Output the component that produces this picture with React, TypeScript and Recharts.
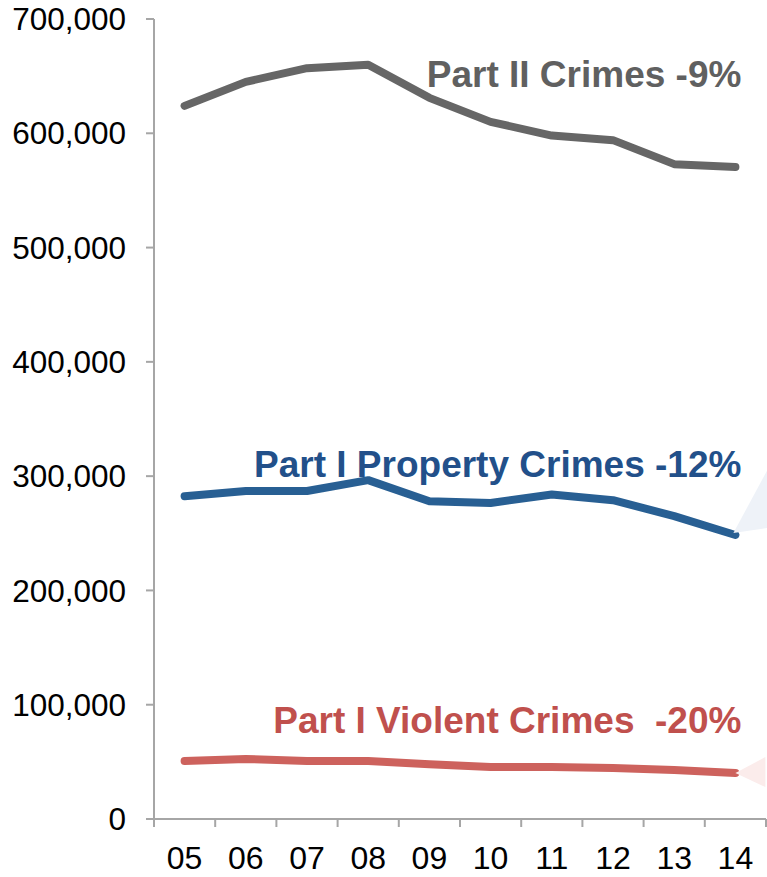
import { LineChart, Line, XAxis, YAxis } from 'recharts';

const years = ['05', '06', '07', '08', '09', '10', '11', '12', '13', '14'];
const partII = [624000, 645000, 657000, 660000, 631000, 610000, 598000, 594000, 573000, 570500];
const property = [282500, 287000, 287000, 296500, 278000, 276500, 284000, 279000, 265000, 248500];
const violent = [50700, 52500, 50800, 50700, 48000, 45600, 45500, 44600, 42900, 40200];
const yTicks = [0, 100000, 200000, 300000, 400000, 500000, 600000, 700000];

const FONT = '"Liberation Sans", Arial, sans-serif';
const AXIS = '#a6a6a6';
const PLOT_W = 612;
const STEP = PLOT_W / years.length;
const TICK_SIZE = 8;
const TICK_MARGIN = 19;

const data = years.map((year, i) => ({
  year,
  partII: partII[i],
  property: property[i],
  violent: violent[i],
}));

// category label with tick marks on the band edges instead of the centre
function YearTick(props: any) {
  const { x, y, index, payload } = props;
  const top = y - TICK_SIZE - TICK_MARGIN;
  const left = x - STEP / 2;
  return (
    <g>
      <line x1={left} x2={left} y1={top} y2={top + TICK_SIZE} stroke={AXIS} strokeWidth={2} />
      {index === years.length - 1 && (
        <line x1={left + STEP} x2={left + STEP} y1={top} y2={top + TICK_SIZE} stroke={AXIS} strokeWidth={2} />
      )}
      <text x={x} y={y} dy="0.71em" textAnchor="middle" fill="#000" fontSize={32} fontFamily={FONT}>
        {payload.value}
      </text>
    </g>
  );
}

// end-of-line caption, right aligned a little past the last point
function endLabel(text: string, color: string, rise: number) {
  return (props: any) => {
    if (props.index !== years.length - 1) return null;
    return (
      <text
        x={props.x + 6}
        y={props.y - rise}
        textAnchor="end"
        fill={color}
        fontFamily={FONT}
        fontWeight="bold"
        fontSize={37}
        style={{ whiteSpace: 'pre' }}
      >
        {text}
      </text>
    );
  };
}

// faint callout wedge that leaves the last point toward the right edge
function wedge(fill: string, pts: Array<[number, number]>) {
  return (props: any) => {
    const { cx, cy, index } = props;
    if (index !== years.length - 1) return <g key={`d-${index}`} />;
    const points = pts.map(([dx, dy]) => `${cx + dx},${cy + dy}`).join(' ');
    return <polygon key={`d-${index}`} points={points} fill={fill} />;
  };
}

export default function App() {
  return (
    <div style={{ position: 'absolute', left: 0, top: 0, background: '#fff' }}>
      <LineChart width={767} height={877} data={data} margin={{ top: 19, right: 1, left: 0, bottom: 0 }}>
        <XAxis
          dataKey="year"
          height={58}
          padding={{ left: STEP / 2, right: STEP / 2 }}
          stroke={AXIS}
          strokeWidth={2}
          tickLine={false}
          tickSize={TICK_SIZE}
          tickMargin={TICK_MARGIN}
          interval={0}
          tick={<YearTick />}
        />
        <YAxis
          width={154}
          domain={[0, 700000]}
          ticks={yTicks}
          tickSize={8}
          tickMargin={20}
          stroke={AXIS}
          strokeWidth={2}
          tickFormatter={(v: number) => v.toLocaleString('en-US')}
          tick={{ fill: '#000', fontSize: 31.5, fontFamily: FONT }}
        />
        <Line
          dataKey="partII"
          stroke="#666666"
          strokeWidth={8}
          strokeLinecap="round"
          strokeLinejoin="round"
          dot={false}
          isAnimationActive={false}
          label={endLabel('Part II Crimes -9%', '#606060', 80)}
        />
        <Line
          dataKey="property"
          stroke="#285f93"
          strokeWidth={8}
          strokeLinecap="round"
          strokeLinejoin="round"
          dot={wedge('#eef2f8', [[-2, -2], [32, -65], [32, -7]])}
          isAnimationActive={false}
          label={endLabel('Part I Property Crimes -12%', '#22508a', 58)}
        />
        <Line
          dataKey="violent"
          stroke="#cd625d"
          strokeWidth={8}
          strokeLinecap="round"
          strokeLinejoin="round"
          dot={wedge('#fbeceb', [[0, 0], [30, -16], [30, 14]])}
          isAnimationActive={false}
          label={endLabel('Part I Violent Crimes  -20%', '#c0504d', 40)}
        />
      </LineChart>
    </div>
  );
}
